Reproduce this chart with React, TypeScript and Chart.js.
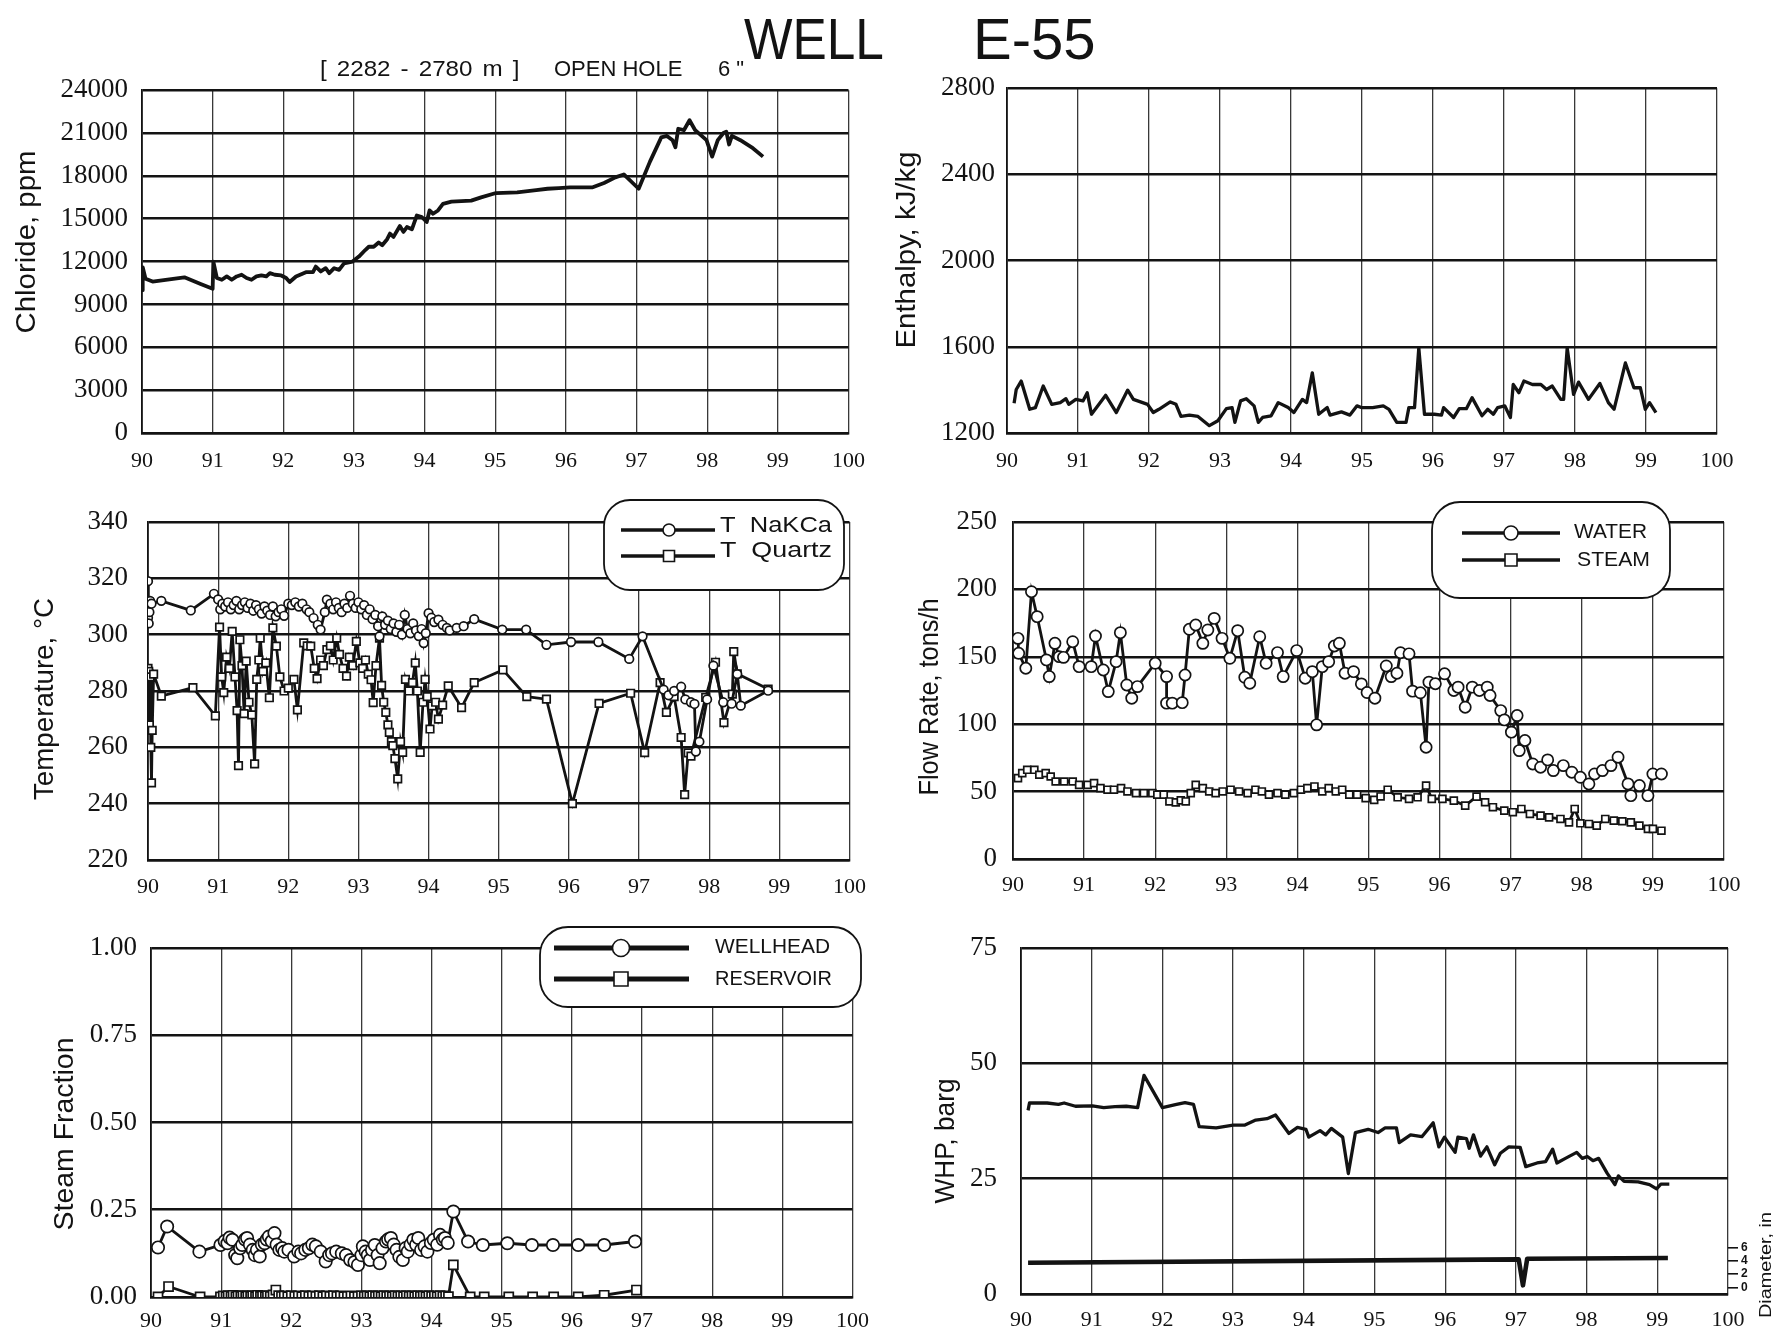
import React, { useEffect, useRef } from "react";
import { Chart, registerables } from "chart.js";

Chart.register(...registerables);

const INK = "#131313";
const GRID_V = "#383838";
const SERIF = '"Liberation Serif", "Times New Roman", serif';
const SANS = '"Liberation Sans", Arial, sans-serif';

// ---------- tick values ----------
const YEAR_TICKS = [90, 91, 92, 93, 94, 95, 96, 97, 98, 99, 100];
const CHLORIDE_TICKS = [0, 3000, 6000, 9000, 12000, 15000, 18000, 21000, 24000];
const ENTHALPY_TICKS = [1200, 1600, 2000, 2400, 2800];
const TEMP_TICKS = [220, 240, 260, 280, 300, 320, 340];
const FLOW_TICKS = [0, 50, 100, 150, 200, 250];
const FRACTION_TICKS = [0, 0.25, 0.5, 0.75, 1];
const WHP_TICKS = [0, 25, 50, 75];
const DIAMETER_TICKS = [0, 2, 4, 6];

// ---------- chloride ----------
const CHLORIDE_YEAR = [
  90.0, 90.01, 90.05, 90.15, 90.6, 90.83, 91.0, 91.01, 91.06, 91.13,
  91.2, 91.27, 91.34, 91.41, 91.48, 91.55, 91.62, 91.69, 91.76, 91.81,
  91.88, 91.97, 92.04, 92.09, 92.18, 92.32, 92.42, 92.46, 92.53, 92.6,
  92.65, 92.72, 92.79, 92.86, 92.98, 93.07, 93.16, 93.21, 93.28, 93.35,
  93.4, 93.47, 93.51, 93.56, 93.65, 93.7, 93.75, 93.82, 93.89, 93.96,
  94.03, 94.07, 94.12, 94.19, 94.26, 94.38, 94.66, 94.8, 95.01, 95.31,
  95.58, 95.74, 95.9, 96.06, 96.38, 96.54, 96.7, 96.82, 97.03, 97.19,
  97.35, 97.43, 97.51, 97.55, 97.59, 97.67, 97.75, 97.83, 97.91, 97.99,
  98.07, 98.15, 98.23, 98.27, 98.31, 98.35, 98.47, 98.63, 98.79,
];
const CHLORIDE_PPM = [
  10000, 11600, 10800, 10600, 10900, 10430, 10100, 12000, 10850, 10730,
  10960, 10730, 10960, 11080, 10850, 10730, 10960, 11030, 10960, 11190,
  11080, 11030, 10850, 10570, 10960, 11260, 11260, 11650, 11310, 11540,
  11190, 11540, 11420, 11880, 12000, 12350, 12810, 13040, 13040, 13340,
  13150, 13570, 13960, 13730, 14490, 14080, 14420, 14260, 15230, 15120,
  14770, 15580, 15350, 15580, 16040, 16200, 16270, 16500, 16800, 16850,
  17000, 17100, 17150, 17200, 17200, 17500, 17900, 18100, 17100, 19000,
  20700, 20800, 20500, 20000, 21300, 21200, 21900, 21200, 20850, 20500,
  19350, 20500, 21000, 21100, 20200, 20800, 20500, 20000, 19350,
];

// ---------- enthalpy ----------
const ENTHALPY_YEAR = [
  90.1, 90.13, 90.2, 90.32, 90.4, 90.51, 90.63, 90.75, 90.83, 90.87,
  90.97, 91.07, 91.13, 91.19, 91.39, 91.54, 91.7, 91.78, 91.98, 92.06,
  92.14, 92.3, 92.38, 92.45, 92.57, 92.69, 92.85, 92.97, 93.09, 93.17,
  93.21, 93.29, 93.37, 93.48, 93.54, 93.6, 93.72, 93.82, 93.96, 94.04,
  94.16, 94.22, 94.3, 94.39, 94.51, 94.55, 94.71, 94.83, 94.93, 94.99,
  95.15, 95.3, 95.38, 95.49, 95.62, 95.66, 95.74, 95.8, 95.88, 96.02,
  96.12, 96.15, 96.29, 96.37, 96.47, 96.55, 96.69, 96.77, 96.85, 96.91,
  97.01, 97.09, 97.13, 97.21, 97.28, 97.4, 97.52, 97.6, 97.68, 97.8,
  97.84, 97.89, 97.98, 98.05, 98.19, 98.35, 98.47, 98.55, 98.71, 98.83,
  98.92, 98.99, 99.05, 99.14,
];
const ENTHALPY_KJKG = [
  1338, 1402, 1441, 1310, 1318, 1418, 1333, 1341, 1359, 1333,
  1356, 1349, 1387, 1287, 1375, 1295, 1399, 1356, 1333, 1295,
  1310, 1344, 1333, 1277, 1283, 1277, 1234, 1257, 1313, 1318,
  1249, 1349, 1359, 1326, 1249, 1272, 1280, 1341, 1318, 1295,
  1356, 1341, 1479, 1287, 1318, 1283, 1298, 1283, 1326, 1318,
  1318, 1326, 1310, 1249, 1249, 1318, 1318, 1595, 1287, 1287,
  1283, 1318, 1272, 1313, 1313, 1364, 1280, 1310, 1287, 1318,
  1326, 1272, 1425, 1387, 1441, 1425, 1425, 1402, 1418, 1356,
  1356, 1595, 1379, 1436, 1356, 1430, 1341, 1310, 1525, 1410,
  1410, 1310, 1341, 1295,
];

// ---------- geothermometers ----------
const NAKCA_YEAR = [
  90.0, 90.0, 90.01, 90.02, 90.03, 90.05, 90.19, 90.61, 90.94, 91.0,
  91.03, 91.06, 91.1, 91.14, 91.18, 91.22, 91.26, 91.3, 91.34, 91.38,
  91.42, 91.46, 91.5, 91.54, 91.58, 91.62, 91.66, 91.7, 91.74, 91.78,
  91.82, 91.86, 91.9, 91.94, 92.0, 92.05, 92.1, 92.15, 92.2, 92.26,
  92.3, 92.36, 92.42, 92.46, 92.52, 92.55, 92.6, 92.64, 92.68, 92.72,
  92.76, 92.8, 92.84, 92.88, 92.92, 92.96, 93.0, 93.04, 93.08, 93.12,
  93.16, 93.2, 93.24, 93.28, 93.3, 93.34, 93.38, 93.42, 93.46, 93.5,
  93.54, 93.58, 93.62, 93.66, 93.7, 93.74, 93.78, 93.82, 93.86, 93.9,
  93.93, 93.96, 94.0, 94.04, 94.08, 94.14, 94.2, 94.26, 94.3, 94.4,
  94.5, 94.65, 95.05, 95.39, 95.68, 96.03, 96.42, 96.86, 97.05, 97.35,
  97.42, 97.5, 97.6, 97.66, 97.74, 97.79, 97.81, 97.86, 97.97, 98.06,
  98.2, 98.32, 98.4, 98.45, 98.84,
];
const NAKCA_C = [
  306, 319, 304, 308, 312, 311, 312, 308.6, 314.5, 312.5,
  309, 311, 310, 311.5, 309, 310.5, 312, 309, 310.5, 311.5,
  309.5, 311, 308.5, 310.5, 309, 307.5, 310, 308.5, 307, 310,
  306.5, 308, 309, 306.7, 311, 310.5, 311.5, 310, 311, 309,
  308, 305.9, 303.5, 301.8, 308, 312.4, 311, 309, 311.5, 309.5,
  308, 311, 309.5, 313.8, 311, 309.5, 311.5, 309, 310.5, 307,
  309, 305.5, 307, 303, 299.4, 306.5, 303.5, 305, 302, 304,
  301, 303.5, 300, 307, 302, 300.5, 304, 301.5, 299.5, 302,
  297, 300.5, 307.6, 306, 304.5, 305.3, 303.5, 302.4, 301.5, 302.4,
  303, 305.5, 301.8, 301.8, 296.4, 297.4, 297.4, 291.4, 299.4, 280.5,
  278.5, 280, 281.5, 277, 276, 275.4, 258.5, 262, 277, 289,
  276, 275.5, 286, 274.8, 280.1,
];
const QUARTZ_YEAR = [
  90.0, 90.01, 90.02, 90.03, 90.04, 90.05, 90.06, 90.08, 90.19, 90.64,
  90.96, 91.02, 91.05, 91.08, 91.12, 91.16, 91.2, 91.24, 91.27, 91.29,
  91.31, 91.34, 91.37, 91.4, 91.44, 91.48, 91.52, 91.55, 91.58, 91.6,
  91.64, 91.68, 91.73, 91.78, 91.83, 91.88, 91.94, 92.0, 92.08, 92.13,
  92.22, 92.27, 92.32, 92.37, 92.41, 92.46, 92.5, 92.55, 92.6, 92.64,
  92.69, 92.73, 92.78, 92.83, 92.87, 92.92, 92.97, 93.02, 93.06, 93.1,
  93.14, 93.18, 93.21, 93.25, 93.3, 93.33, 93.36, 93.39, 93.42, 93.44,
  93.47, 93.49, 93.52, 93.56, 93.6, 93.63, 93.67, 93.72, 93.77, 93.81,
  93.84, 93.88, 93.92, 93.95, 93.98, 94.02, 94.05, 94.1, 94.14, 94.2,
  94.28, 94.47, 94.65, 95.06, 95.4, 95.68, 96.05, 96.43, 96.88, 97.08,
  97.3, 97.39, 97.5, 97.6, 97.65, 97.7, 97.74, 97.95, 98.09, 98.21,
  98.33, 98.35, 98.4, 98.84,
];
const QUARTZ_C = [
  288, 287, 268, 285, 260, 247.4, 266, 286, 278.2, 281.2,
  271.2, 302.7, 285, 279.4, 292, 288, 301.2, 285, 273, 253.5,
  298.2, 289, 272, 290.6, 276, 271.5, 254.1, 284.1, 291, 298.8,
  287, 290, 277.6, 302.4, 295.9, 285, 280, 281, 284.1, 273.3,
  297.1, 296, 295.9, 288, 284.4, 291, 289, 294.7, 296, 291,
  298.8, 293, 288, 285.3, 292, 289, 297.6, 290, 288, 291,
  286, 284, 275.9, 289, 298.8, 282, 276, 272.4, 268, 265.3,
  262, 260.6, 256, 248.8, 262, 258.2, 284.1, 280, 283, 290,
  280, 258.2, 276, 284.1, 278, 266.5, 274.7, 276, 270, 275,
  281.8, 274.1, 283, 287.5, 278, 277.1, 240, 275.6, 279.2, 258.1,
  283, 272.4, 278, 263.5, 243.2, 258, 256.9, 277.7, 290.2, 268.8,
  278.9, 294, 286.1, 280.7,
];

// ---------- flow rates ----------
const WATER_YEAR = [
  90.07, 90.08, 90.18, 90.26, 90.34, 90.47, 90.51, 90.59, 90.65, 90.71,
  90.84, 90.93, 91.1, 91.16, 91.27, 91.34, 91.45, 91.51, 91.6, 91.67,
  91.75, 92.0, 92.16, 92.16, 92.24, 92.38, 92.42, 92.48, 92.57, 92.67,
  92.74, 92.83, 92.94, 93.05, 93.16, 93.26, 93.33, 93.47, 93.56, 93.72,
  93.8, 93.99, 94.11, 94.21, 94.27, 94.35, 94.44, 94.52, 94.59, 94.67,
  94.79, 94.9, 94.98, 95.09, 95.25, 95.32, 95.4, 95.45, 95.57, 95.62,
  95.73, 95.81, 95.85, 95.94, 96.07, 96.2, 96.26, 96.36, 96.46, 96.56,
  96.67, 96.71, 96.86, 96.91, 97.01, 97.09, 97.12, 97.2, 97.31, 97.42,
  97.52, 97.6, 97.74, 97.86, 97.98, 98.1, 98.18, 98.29, 98.41, 98.51,
  98.65, 98.69, 98.81, 98.93, 99.0, 99.12,
];
const WATER_TPH = [
  163.7, 152.6, 141.5, 198.3, 179.8, 147.7, 135.3, 160, 150.1, 149.6,
  161.2, 142.7, 142.7, 165.4, 140.2, 124.2, 146.4, 167.9, 129.1, 119.3,
  127.9, 145.2, 135.3, 115.6, 115.6, 116, 136.5, 170.4, 173.6, 160,
  169.9, 178.5, 163.7, 148.9, 169.4, 134.8, 130.4, 164.9, 145.2, 153.1,
  135.3, 154.6, 134.1, 139, 99.5, 142.7, 146.4, 158, 160, 137.8,
  139, 129.9, 123.5, 119.3, 143.2, 135.3, 137.8, 153, 152.2, 124.5,
  123.3, 82.9, 131.2, 130, 137.4, 125, 127.5, 112.6, 127.5, 125,
  127.5, 121.3, 110.1, 103.2, 94.1, 106.4, 80.4, 87.9, 70.5, 68.1,
  73.5, 65.6, 69.3, 64.4, 60.6, 55.7, 63.1, 65.6, 69.3, 75.5,
  55.7, 47, 54.5, 47, 63.1, 63.1,
];
const STEAM_YEAR = [
  90.07, 90.13, 90.2, 90.3, 90.37, 90.46, 90.53, 90.6, 90.72, 90.84,
  90.93, 91.05, 91.14, 91.23, 91.33, 91.42, 91.52, 91.61, 91.73, 91.84,
  91.96, 92.03, 92.12, 92.2, 92.29, 92.36, 92.43, 92.5, 92.57, 92.67,
  92.76, 92.85, 92.95, 93.06, 93.18, 93.3, 93.41, 93.5, 93.6, 93.72,
  93.83, 93.95, 94.05, 94.14, 94.24, 94.35, 94.44, 94.54, 94.63, 94.73,
  94.84, 94.96, 95.08, 95.17, 95.27, 95.41, 95.57, 95.69, 95.81, 95.89,
  96.04, 96.2, 96.36, 96.52, 96.64, 96.75, 96.91, 97.03, 97.15, 97.27,
  97.42, 97.54, 97.7, 97.82, 97.9, 97.98, 98.1, 98.21, 98.33, 98.45,
  98.57, 98.69, 98.81, 98.93, 99.0, 99.12,
];
const STEAM_TPH = [
  60, 63.7, 66.2, 66.2, 62.5, 63.7, 61.2, 57.5, 57.5, 57.5,
  55, 55, 56.3, 52.6, 51.4, 51.4, 52.6, 50.1, 48.9, 48.9,
  48.9, 47.7, 47.7, 42.7, 42, 43.5, 42.7, 48.9, 55, 52.6,
  50.1, 48.9, 50.1, 51.4, 50.1, 48.9, 51.4, 50.1, 47.7, 48.9,
  47.7, 48.9, 51.4, 52.6, 53.8, 50.1, 52.6, 50.1, 51.4, 47.7,
  47.7, 45.2, 43.9, 46.4, 51.4, 45.8, 44.6, 45.8, 54.5, 44.6,
  44.6, 43.3, 39.6, 46.3, 42.1, 38.4, 35.9, 34.7, 37.1, 33.4,
  32.2, 30.9, 29.7, 27.2, 37.1, 26.5, 26, 24.8, 29.7, 28.5,
  28, 27.2, 24.8, 22.3, 22.3, 21,
];

// ---------- steam fraction ----------
const WELLHEAD_YEAR = [
  90.1, 90.23, 90.69, 90.99, 91.05, 91.09, 91.12, 91.16, 91.2, 91.23,
  91.27, 91.3, 91.34, 91.37, 91.41, 91.45, 91.48, 91.51, 91.55, 91.58,
  91.62, 91.65, 91.68, 91.72, 91.76, 91.79, 91.83, 91.87, 91.9, 91.96,
  92.04, 92.1, 92.14, 92.2, 92.25, 92.3, 92.35, 92.42, 92.49, 92.54,
  92.58, 92.64, 92.72, 92.78, 92.84, 92.9, 92.95, 93.0, 93.02, 93.06,
  93.09, 93.12, 93.15, 93.19, 93.23, 93.26, 93.3, 93.35, 93.38, 93.42,
  93.46, 93.5, 93.54, 93.59, 93.63, 93.66, 93.7, 93.74, 93.78, 93.81,
  93.85, 93.9, 93.94, 93.99, 94.03, 94.08, 94.12, 94.16, 94.19, 94.23,
  94.31, 94.52, 94.73, 95.08, 95.43, 95.73, 96.09, 96.46, 96.9,
];
const WELLHEAD_FRAC = [
  0.142, 0.202, 0.13, 0.149, 0.16, 0.154, 0.17, 0.164, 0.12, 0.111,
  0.14, 0.149, 0.165, 0.169, 0.15, 0.135, 0.12, 0.135, 0.116, 0.15,
  0.154, 0.165, 0.173, 0.16, 0.183, 0.15, 0.135, 0.14, 0.13, 0.135,
  0.116, 0.13, 0.125, 0.135, 0.14, 0.15, 0.145, 0.13, 0.102, 0.12,
  0.125, 0.13, 0.125, 0.12, 0.106, 0.1, 0.092, 0.12, 0.145, 0.13,
  0.12, 0.106, 0.135, 0.149, 0.12, 0.097, 0.14, 0.159, 0.165, 0.169,
  0.15, 0.135, 0.115, 0.106, 0.14, 0.13, 0.15, 0.164, 0.15, 0.169,
  0.135, 0.145, 0.13, 0.155, 0.164, 0.15, 0.178, 0.165, 0.169, 0.155,
  0.245, 0.159, 0.149, 0.154, 0.149, 0.149, 0.149, 0.149, 0.159,
];
const RESERVOIR_YEAR = [
  90.1, 90.25, 90.7, 90.99, 91.03, 91.07, 91.1, 91.14, 91.17, 91.21,
  91.24, 91.28, 91.31, 91.35, 91.38, 91.42, 91.45, 91.49, 91.52, 91.56,
  91.59, 91.63, 91.66, 91.7, 91.74, 91.78, 91.82, 91.86, 91.9, 91.95,
  92.0, 92.05, 92.1, 92.15, 92.2, 92.25, 92.3, 92.35, 92.4, 92.45,
  92.5, 92.55, 92.6, 92.65, 92.7, 92.75, 92.8, 92.85, 92.9, 92.95,
  93.0, 93.04, 93.08, 93.12, 93.16, 93.2, 93.24, 93.28, 93.32, 93.36,
  93.4, 93.44, 93.48, 93.52, 93.56, 93.6, 93.64, 93.68, 93.72, 93.76,
  93.8, 93.84, 93.88, 93.92, 93.96, 94.0, 94.04, 94.08, 94.12, 94.16,
  94.2, 94.24, 94.31, 94.55, 94.75, 95.1, 95.44, 95.74, 96.09, 96.46, 96.92,
];
const RESERVOIR_FRAC = [
  0.0, 0.03, 0.0, 0.0, 0.003, 0.001, 0.004, 0.002, 0.005, 0.001,
  0.003, 0.002, 0.004, 0.001, 0.003, 0.002, 0.004, 0.001, 0.005, 0.002,
  0.003, 0.001, 0.004, 0.002, 0.006, 0.02, 0.004, 0.002, 0.003, 0.001,
  0.004, 0.002, 0.003, 0.001, 0.004, 0.002, 0.003, 0.002, 0.004, 0.001,
  0.003, 0.002, 0.004, 0.002, 0.003, 0.001, 0.002, 0.003, 0.001, 0.002,
  0.004, 0.002, 0.003, 0.001, 0.004, 0.002, 0.003, 0.001, 0.004, 0.002,
  0.003, 0.001, 0.004, 0.002, 0.003, 0.001, 0.004, 0.002, 0.003, 0.001,
  0.004, 0.002, 0.003, 0.001, 0.004, 0.002, 0.003, 0.001, 0.004, 0.002,
  0.003, 0.001, 0.092, 0.0, 0.0, 0.0, 0.0, 0.0, 0.0, 0.005, 0.02,
];

// ---------- wellhead pressure & orifice diameter ----------
const WHP_YEAR = [
  90.1, 90.12, 90.37, 90.53, 90.61, 90.77, 91.01, 91.17, 91.33, 91.49,
  91.65, 91.74, 92.0, 92.2, 92.32, 92.44, 92.52, 92.76, 93.0, 93.16,
  93.32, 93.48, 93.6, 93.79, 93.91, 94.03, 94.07, 94.23, 94.31, 94.39,
  94.55, 94.63, 94.73, 94.91, 95.05, 95.15, 95.31, 95.35, 95.51, 95.67,
  95.83, 95.91, 95.99, 96.14, 96.18, 96.3, 96.34, 96.4, 96.5, 96.59,
  96.7, 96.78, 96.9, 97.06, 97.14, 97.3, 97.42, 97.52, 97.58, 97.7,
  97.86, 97.94, 98.01, 98.09, 98.17, 98.29, 98.4, 98.45, 98.53, 98.73,
  98.89, 98.99, 99.05, 99.17,
];
const WHP_BARG = [
  39.8, 41.4, 41.4, 41.1, 41.4, 40.7, 40.8, 40.4, 40.6, 40.7,
  40.4, 47.4, 40.4, 41.1, 41.5, 41.1, 36.3, 36.0, 36.6, 36.6,
  37.7, 38.0, 38.8, 34.8, 36.1, 35.7, 34.0, 35.4, 34.5, 35.9,
  34.0, 26.1, 35.0, 35.7, 35.0, 36.0, 36.0, 32.8, 34.5, 34.1,
  37.1, 31.9, 34.0, 30.7, 34.0, 33.7, 31.6, 34.5, 29.9, 31.9,
  28.0, 30.5, 31.9, 31.8, 27.6, 28.4, 28.7, 31.4, 28.4, 29.4,
  30.7, 29.4, 29.8, 28.9, 29.4, 26.2, 23.7, 25.6, 24.4, 24.3,
  23.7, 22.8, 23.8, 23.8,
];
const DIAMETER_YEAR = [90.1, 97.04, 97.1, 97.16, 99.15];
const DIAMETER_IN = [3.7, 4.2, 0.3, 4.3, 4.4];

// ---------- helpers ----------
const zip = (xs: number[], ys: number[]) => xs.map((x, i) => ({ x, y: ys[i] }));

type Rect = { x0: number; y0: number; x1: number; y1: number };
type Area = { L: number; T: number; R: number; B: number };
type PageText = { text: string; x: number; y: number; size: number; length?: number; rotate?: boolean; weight?: string };
type LegendRow = { label: string; y: number; from: number; to: number; mx: number; marker: "circle" | "rect"; ms: number; tx: number; tw: number; ty: number };
type Legend = { x0: number; y0: number; x1: number; y1: number; r: number; lineWidth: number; fontSize: number; rows: LegendRow[] };

type PanelSpec = {
  region: Rect;
  area: Area;
  yMin: number;
  yMax: number;
  yTicks: number[];
  yFmt?: (v: number) => string;
  yPad: number;
  xPad: number;
  datasets: any[];
  texts: PageText[];
  legend?: Legend;
  y2?: { min: number; max: number; ticks: number[] };
};

function roundedRect(ctx: CanvasRenderingContext2D, x: number, y: number, w: number, h: number, r: number) {
  ctx.beginPath();
  ctx.moveTo(x + r, y);
  ctx.arcTo(x + w, y, x + w, y + h, r);
  ctx.arcTo(x + w, y + h, x, y + h, r);
  ctx.arcTo(x, y + h, x, y, r);
  ctx.arcTo(x, y, x + w, y, r);
  ctx.closePath();
}

function fittedText(ctx: CanvasRenderingContext2D, text: string, x: number, y: number, width: number | undefined, align: CanvasTextAlign) {
  ctx.textAlign = align;
  ctx.textBaseline = "middle";
  ctx.save();
  ctx.translate(x, y);
  if (width) {
    const w = ctx.measureText(text).width;
    ctx.scale(width / w, 1);
  }
  ctx.fillText(text, 0, 0);
  ctx.restore();
}

function overlayPlugin(spec: PanelSpec) {
  const ox = spec.region.x0;
  const oy = spec.region.y0;
  return {
    id: "overlay",
    afterDraw(chart: any) {
      const ctx: CanvasRenderingContext2D = chart.ctx;
      ctx.save();
      ctx.translate(-ox, -oy);
      ctx.fillStyle = INK;
      ctx.strokeStyle = INK;
      const lg = spec.legend;
      if (lg) {
        roundedRect(ctx, lg.x0, lg.y0, lg.x1 - lg.x0, lg.y1 - lg.y0, lg.r);
        ctx.fillStyle = "#ffffff";
        ctx.fill();
        ctx.lineWidth = 1.8;
        ctx.strokeStyle = INK;
        ctx.stroke();
        for (const row of lg.rows) {
          ctx.beginPath();
          ctx.moveTo(row.from, row.y);
          ctx.lineTo(row.to, row.y);
          ctx.lineWidth = lg.lineWidth;
          ctx.strokeStyle = INK;
          ctx.stroke();
          ctx.beginPath();
          if (row.marker === "circle") ctx.arc(row.mx, row.y, row.ms, 0, Math.PI * 2);
          else ctx.rect(row.mx - row.ms, row.y - row.ms, row.ms * 2, row.ms * 2);
          ctx.fillStyle = "#ffffff";
          ctx.fill();
          ctx.lineWidth = 1.6;
          ctx.stroke();
          ctx.fillStyle = INK;
          ctx.font = `${lg.fontSize}px ${SANS}`;
          fittedText(ctx, row.label, row.tx, row.ty, row.tw, "left");
        }
      }
      for (const t of spec.texts) {
        ctx.fillStyle = INK;
        ctx.font = `${t.weight || "normal"} ${t.size}px ${SANS}`;
        ctx.save();
        ctx.translate(t.x, t.y);
        if (t.rotate) ctx.rotate(-Math.PI / 2);
        fittedText(ctx, t.text, 0, 0, t.length, "center");
        ctx.restore();
      }
      ctx.restore();
    },
  };
}

function buildConfig(s: PanelSpec): any {
  const g = s.region;
  const p = s.area;
  const scales: any = {
    x: {
      type: "linear",
      min: 90,
      max: 100,
      afterBuildTicks: (sc: any) => {
        sc.ticks = YEAR_TICKS.map((v) => ({ value: v }));
      },
      ticks: {
        color: INK,
        font: { family: SERIF, size: 22 },
        padding: s.xPad,
        maxRotation: 0,
        autoSkip: false,
        callback: (v: number) => String(v),
      },
      grid: { color: GRID_V, lineWidth: 1.3, drawTicks: false },
      border: { color: INK, width: 2.6 },
      afterFit: (sc: any) => {
        sc.height = g.y1 - p.B;
      },
    },
    y: {
      type: "linear",
      position: "left",
      min: s.yMin,
      max: s.yMax,
      afterBuildTicks: (sc: any) => {
        sc.ticks = s.yTicks.map((v) => ({ value: v }));
      },
      ticks: {
        color: INK,
        font: { family: SERIF, size: 27 },
        padding: s.yPad,
        callback: (v: number) => (s.yFmt ? s.yFmt(v) : String(v)),
      },
      grid: { color: INK, lineWidth: 2.6, drawTicks: false },
      border: { color: INK, width: 1.8 },
      afterFit: (sc: any) => {
        sc.width = p.L - g.x0;
      },
    },
  };
  if (s.y2) {
    const y2 = s.y2;
    scales.y2 = {
      type: "linear",
      position: "right",
      min: y2.min,
      max: y2.max,
      afterBuildTicks: (sc: any) => {
        sc.ticks = y2.ticks.map((v) => ({ value: v }));
      },
      ticks: {
        color: INK,
        font: { family: SANS, size: 12, weight: "bold" },
        padding: 3,
        callback: (v: number) => String(v),
      },
      grid: { drawOnChartArea: false, drawTicks: true, tickLength: 10, color: INK, lineWidth: 1.6 },
      border: { display: false },
      afterFit: (sc: any) => {
        sc.width = g.x1 - p.R;
      },
    };
  }
  return {
    type: "line",
    data: { datasets: s.datasets },
    options: {
      responsive: false,
      maintainAspectRatio: false,
      animation: false,
      devicePixelRatio: 1,
      events: [],
      layout: {
        padding: { left: 0, top: p.T - g.y0, right: s.y2 ? 0 : g.x1 - p.R, bottom: 0 },
      },
      plugins: { legend: { display: false }, tooltip: { enabled: false } },
      elements: { line: { tension: 0 } },
      scales,
    },
    plugins: [overlayPlugin(s)],
  };
}

const plainLine = (xs: number[], ys: number[], width: number, axis = "y") => ({
  data: zip(xs, ys),
  borderColor: INK,
  borderWidth: width,
  pointRadius: 0,
  yAxisID: axis,
  borderJoinStyle: "round",
});

const markedLine = (xs: number[], ys: number[], style: string, radius: number, width: number) => ({
  data: zip(xs, ys),
  borderColor: INK,
  borderWidth: width,
  pointStyle: style,
  pointRadius: radius,
  pointBackgroundColor: "#ffffff",
  pointBorderColor: INK,
  pointBorderWidth: 1.7,
  yAxisID: "y",
});

// ---------- panels ----------
const PANELS: PanelSpec[] = [
  {
    region: { x0: 0, y0: 60, x1: 880, y1: 480 },
    area: { L: 142, T: 86, R: 855, B: 433 },
    yMin: 0,
    yMax: 24000,
    yTicks: CHLORIDE_TICKS,
    yPad: 14,
    xPad: 15,
    datasets: [plainLine(CHLORIDE_YEAR, CHLORIDE_PPM, 3.8)],
    texts: [{ text: "Chloride, ppm", x: 27, y: 242, size: 28, length: 183, rotate: true }],
  },
  {
    region: { x0: 880, y0: 60, x1: 1781, y1: 480 },
    area: { L: 1007, T: 86, R: 1717, B: 433 },
    yMin: 1200,
    yMax: 2800,
    yTicks: ENTHALPY_TICKS,
    yPad: 12,
    xPad: 15,
    datasets: [plainLine(ENTHALPY_YEAR, ENTHALPY_KJKG, 3.3)],
    texts: [{ text: "Enthalpy, kJ/kg", x: 907, y: 250, size: 28, length: 197, rotate: true }],
  },
  {
    region: { x0: 0, y0: 480, x1: 880, y1: 900 },
    area: { L: 148, T: 522, R: 859, B: 860 },
    yMin: 220,
    yMax: 340,
    yTicks: TEMP_TICKS,
    yPad: 20,
    xPad: 14,
    datasets: [
      markedLine(NAKCA_YEAR, NAKCA_C, "circle", 4.3, 2.8),
      markedLine(QUARTZ_YEAR, QUARTZ_C, "rect", 5.3, 2.8),
    ],
    texts: [{ text: "Temperature, °C", x: 45, y: 699, size: 28, length: 202, rotate: true }],
    legend: {
      x0: 604, y0: 500, x1: 844, y1: 590, r: 26, lineWidth: 3.4, fontSize: 22,
      rows: [
        { label: "T  NaKCa", y: 530, from: 621, to: 715, mx: 669, marker: "circle", ms: 6, tx: 720, tw: 112, ty: 526 },
        { label: "T  Quartz", y: 556, from: 621, to: 715, mx: 669, marker: "rect", ms: 5.5, tx: 720, tw: 112, ty: 551 },
      ],
    },
  },
  {
    region: { x0: 880, y0: 480, x1: 1781, y1: 900 },
    area: { L: 1013, T: 522, R: 1724, B: 859 },
    yMin: 0,
    yMax: 250,
    yTicks: FLOW_TICKS,
    yPad: 16,
    xPad: 13,
    datasets: [
      markedLine(WATER_YEAR, WATER_TPH, "circle", 5.6, 2.8),
      markedLine(STEAM_YEAR, STEAM_TPH, "rect", 4.9, 2.8),
    ],
    texts: [{ text: "Flow Rate, tons/h", x: 930, y: 697, size: 28, length: 197, rotate: true }],
    legend: {
      x0: 1432, y0: 502, x1: 1670, y1: 598, r: 28, lineWidth: 3.4, fontSize: 21,
      rows: [
        { label: "WATER", y: 533, from: 1462, to: 1560, mx: 1511, marker: "circle", ms: 7, tx: 1574, tw: 73, ty: 532 },
        { label: "STEAM", y: 560, from: 1462, to: 1560, mx: 1511, marker: "rect", ms: 6, tx: 1577, tw: 73, ty: 560 },
      ],
    },
  },
  {
    region: { x0: 0, y0: 900, x1: 880, y1: 1337 },
    area: { L: 151, T: 948, R: 866, B: 1297 },
    yMin: 0,
    yMax: 1,
    yTicks: FRACTION_TICKS,
    yFmt: (v: number) => v.toFixed(2),
    yPad: 14,
    xPad: 11,
    datasets: [
      markedLine(WELLHEAD_YEAR, WELLHEAD_FRAC, "circle", 6.2, 2.8),
      markedLine(RESERVOIR_YEAR, RESERVOIR_FRAC, "rect", 6.4, 2.8),
    ],
    texts: [{ text: "Steam Fraction", x: 65, y: 1134, size: 28, length: 193, rotate: true }],
    legend: {
      x0: 540, y0: 927, x1: 861, y1: 1007, r: 28, lineWidth: 4.8, fontSize: 21,
      rows: [
        { label: "WELLHEAD", y: 948, from: 554, to: 689, mx: 621, marker: "circle", ms: 8.5, tx: 715, tw: 115, ty: 947 },
        { label: "RESERVOIR", y: 979, from: 554, to: 689, mx: 621, marker: "rect", ms: 7, tx: 715, tw: 117, ty: 979 },
      ],
    },
  },
  {
    region: { x0: 880, y0: 900, x1: 1781, y1: 1337 },
    area: { L: 1021, T: 948, R: 1728, B: 1294 },
    yMin: 0,
    yMax: 75,
    yTicks: WHP_TICKS,
    yPad: 24,
    xPad: 13,
    datasets: [
      plainLine(WHP_YEAR, WHP_BARG, 3.3),
      plainLine(DIAMETER_YEAR, DIAMETER_IN, 4.6, "y2"),
    ],
    y2: { min: -1, max: 51, ticks: DIAMETER_TICKS },
    texts: [
      { text: "WHP, barg", x: 946, y: 1141, size: 28, length: 125, rotate: true },
      { text: "Diameter, in", x: 1766, y: 1265, size: 17, length: 106, rotate: true },
    ],
  },
];

function Panel({ spec }: { spec: PanelSpec }) {
  const ref = useRef<HTMLCanvasElement | null>(null);
  useEffect(() => {
    if (!ref.current) return;
    const chart = new Chart(ref.current, buildConfig(spec));
    return () => chart.destroy();
  }, [spec]);
  const w = spec.region.x1 - spec.region.x0;
  const h = spec.region.y1 - spec.region.y0;
  return (
    <canvas
      ref={ref}
      width={w}
      height={h}
      style={{ position: "absolute", left: spec.region.x0, top: spec.region.y0, width: w, height: h }}
    />
  );
}

const textBase: React.CSSProperties = {
  position: "absolute",
  whiteSpace: "nowrap",
  color: INK,
  fontFamily: SANS,
  transformOrigin: "left top",
};

export default function App() {
  return (
    <div
      style={{
        position: "absolute",
        left: 0,
        top: 0,
        width: 1781,
        height: 1337,
        background: "#ffffff",
        overflow: "hidden",
      }}
    >
      {PANELS.map((p, i) => (
        <Panel key={i} spec={p} />
      ))}
      <div style={{ ...textBase, left: 744, top: 10, fontSize: 58, lineHeight: "58px", transform: "scaleX(0.886)" }}>WELL</div>
      <div style={{ ...textBase, left: 973, top: 10, fontSize: 58, lineHeight: "58px" }}>E-55</div>
      <div style={{ ...textBase, left: 320, top: 58, fontSize: 22, lineHeight: "22px", wordSpacing: 3, transform: "scaleX(1.1)" }}>
        [ 2282 - 2780 m ]
      </div>
      <div style={{ ...textBase, left: 554, top: 58, fontSize: 22, lineHeight: "22px" }}>OPEN HOLE</div>
      <div style={{ ...textBase, left: 718, top: 58, fontSize: 22, lineHeight: "22px" }}>6 "</div>
    </div>
  );
}
